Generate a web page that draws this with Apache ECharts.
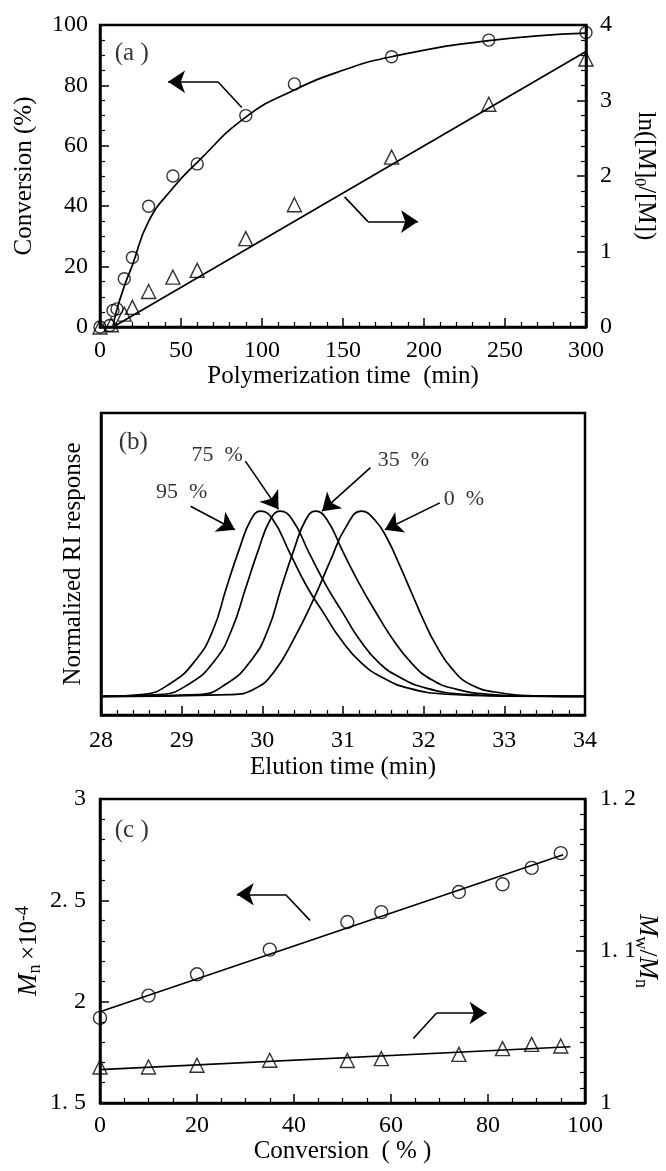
<!DOCTYPE html>
<html><head><meta charset="utf-8">
<script src="https://cdn.jsdelivr.net/npm/echarts@6/dist/echarts.min.js"></script>
<style>html,body{margin:0;padding:0;background:#fff}#c{width:666px;height:1171px}</style>
</head><body><div id="c"></div>
<script>
// ---------- Panel (a): conversion / ln([M]0/[M]) vs polymerization time ----------
const timeConvCircles = [[0,0],[6,0.5],[8,5.5],[10.5,6],[15,16],[20,23],[30,40],[45,50],[60,54],[90,70],[120,80.5],[180,89.5],[240,95],[300,97.5]];
const timeLnTriangles = [[0,0],[7,0.03],[15,0.17],[20,0.26],[30,0.47],[45,0.66],[60,0.75],[90,1.17],[120,1.62],[180,2.25],[240,2.95],[300,3.55]];
const convFitCurve = [[8,0],[10,5],[15,13.5],[20,20.5],[30,35],[45,46],[60,54.5],[90,69.5],[120,78.5],[150,85],[180,89.5],[240,94.8],[300,97.3]];
const lnFitLine = [[8,0],[300,3.65]];
const arrowA_left = [[87.5,72.7],[72.8,81.2],[42,81.2]];
const arrowA_right = [[151,43.1],[165.4,34.9],[196.3,34.9]];
const labelsA = [{name:'(a )', value:[19.6,90.6]}];

// ---------- Panel (b): GPC traces ----------
const trace95 = [[28,0],[28.5,0.01],[28.86,0.07],[29.18,0.2],[29.39,0.36],[29.55,0.58],[29.71,0.79],[29.86,0.955],[29.98,1],[30.13,0.955],[30.34,0.775],[30.55,0.595],[30.76,0.45],[30.97,0.31],[31.23,0.18],[31.5,0.1],[31.81,0.045],[32.29,0.012],[33,0.002],[34,0]];
const trace75 = [[28,0],[28.72,0.01],[29.1,0.07],[29.42,0.2],[29.62,0.36],[29.79,0.58],[29.95,0.79],[30.1,0.955],[30.22,1],[30.37,0.955],[30.58,0.775],[30.79,0.6],[31.0,0.45],[31.2,0.31],[31.45,0.18],[31.72,0.1],[32.03,0.045],[32.5,0.012],[33.2,0.002],[34,0]];
const trace35 = [[28,0],[29.2,0.01],[29.56,0.07],[29.87,0.2],[30.07,0.36],[30.23,0.58],[30.39,0.79],[30.54,0.955],[30.66,1],[30.8,0.955],[31.0,0.78],[31.2,0.61],[31.4,0.46],[31.6,0.32],[31.85,0.18],[32.1,0.09],[32.4,0.04],[32.8,0.012],[33.4,0.002],[34,0]];
const trace0 = [[28,0],[29.6,0.01],[29.9,0.04],[30.14,0.13],[30.39,0.31],[30.63,0.52],[30.85,0.74],[31.03,0.91],[31.23,1],[31.4,0.95],[31.55,0.85],[31.7,0.71],[31.85,0.56],[32.0,0.41],[32.15,0.28],[32.35,0.15],[32.6,0.06],[32.95,0.02],[33.4,0.003],[34,0]];
const arrowsB = [
  [[29.11,1.027],[29.66,0.90]],
  [[29.79,1.27],[30.20,1.01]],
  [[31.34,1.235],[30.74,1.0]],
  [[32.2,1.045],[31.52,0.90]]
];
const labelsB = [
  {name:'(b)', value:[28.40,1.371]},
  {name:'95  %', value:[29.0,1.104]},
  {name:'75  %', value:[29.44,1.30]},
  {name:'35  %', value:[31.75,1.275]},
  {name:'0  %', value:[32.5,1.063]}
];

// ---------- Panel (c): Mn and Mw/Mn vs conversion ----------
const convMnCircles = [[0,1.92],[10,2.03],[20,2.135],[35,2.257],[51,2.393],[58,2.442],[74,2.541],[83,2.579],[89,2.66],[95,2.733]];
const convPdiTriangles = [[0,1.0237],[10,1.0237],[20,1.0248],[35,1.0281],[51,1.028],[58,1.0292],[74,1.032],[83,1.0358],[89,1.0386],[95,1.0375]];
const mnFitLine = [[0,1.95],[95.5,2.725]];
const pdiFitLine = [[0,1.022],[97,1.037]];
const arrowC_left = [[43.3,2.401],[38.2,2.53],[28.2,2.53]];
const arrowC_right = [[64.6,1.818],[69.4,1.944],[79.7,1.944]];
const labelsC = [{name:'(c )', value:[6.54,2.845]}];

const FONT = 'Liberation Serif';
const BLACK = '#000';
const TICK_FS = 24, NAME_FS = 25;

function axisCommon(minorSplit, labelMargin) {
  return {
    nameMoveOverlap:false,
    nameTextStyle:{fontFamily:FONT, fontSize:NAME_FS, color:BLACK},
    axisLine:{show:true, onZero:false, lineStyle:{color:BLACK, width:2.5}},
    axisTick:{show:true, inside:true, length:9, lineStyle:{color:BLACK, width:1.5}},
    minorTick:{show:true, splitNumber:minorSplit, length:5, lineStyle:{color:BLACK, width:1.2}},
    splitLine:{show:false}, minorSplitLine:{show:false},
    axisLabel:{fontFamily:FONT, fontSize:TICK_FS, color:BLACK, margin:labelMargin}
  };
}
function xAxisBase(gi, min, max, interval, minorSplit, name, labelMargin, nameGap) {
  return Object.assign({type:'value', gridIndex:gi, min, max, interval, position:'bottom',
    name, nameLocation:'middle', nameGap}, axisCommon(minorSplit, labelMargin));
}
function yAxisBase(gi, pos, min, max, interval, minorSplit, name, labelMargin, nameGap, extra) {
  return Object.assign({type:'value', gridIndex:gi, position:pos, min, max, interval,
    name, nameLocation:'middle', nameGap}, axisCommon(minorSplit, labelMargin), extra || {});
}
const dotted = v => String(v).replace('.', '. ');

function lineSeries(xi, yi, data, smooth) {
  return {type:'line', xAxisIndex:xi, yAxisIndex:yi, data, showSymbol:false, symbol:'none',
    smooth: smooth || false, lineStyle:{color:BLACK, width:1.7}, z:2, silent:true};
}
function markerSeries(xi, yi, data, symbol, size) {
  return {type:'scatter', xAxisIndex:xi, yAxisIndex:yi, data, symbol, symbolSize:size,
    itemStyle:{color:'rgba(0,0,0,0)', borderColor:BLACK, borderWidth:1.4}, z:3, silent:true};
}
function arrowSeries(xi, yi, polylines) {
  const plain = [], heads = [];
  polylines.forEach(p => {
    for (let i = 0; i < p.length - 2; i++) plain.push({coords:[p[i], p[i+1]]});
    heads.push({coords:[p[p.length-2], p[p.length-1]]});
  });
  const out = [];
  if (plain.length) out.push({type:'lines', coordinateSystem:'cartesian2d', xAxisIndex:xi, yAxisIndex:yi,
    data:plain, symbol:['none','none'], lineStyle:{color:BLACK, width:1.6, opacity:1}, z:4, silent:true});
  out.push({type:'lines', coordinateSystem:'cartesian2d', xAxisIndex:xi, yAxisIndex:yi,
    data:heads, symbol:['none','arrow'], symbolSize:[11,17], lineStyle:{color:BLACK, width:1.6, opacity:1},
    itemStyle:{color:BLACK}, z:4, silent:true});
  return out;
}
function textSeries(xi, yi, data, size) {
  return {type:'scatter', xAxisIndex:xi, yAxisIndex:yi, data, symbolSize:1,
    itemStyle:{color:'rgba(0,0,0,0)'}, z:5, silent:true,
    label:{show:true, position:'inside', formatter:'{b}', fontFamily:FONT, fontSize:size, color:BLACK}};
}

const subRich = {
  i:{fontFamily:FONT, fontSize:27, fontStyle:'italic', color:BLACK, lineHeight:30},
  t:{fontFamily:FONT, fontSize:25, color:BLACK, lineHeight:30},
  s:{fontFamily:FONT, fontSize:18, color:BLACK, lineHeight:30, verticalAlign:'bottom'},
  p:{fontFamily:FONT, fontSize:18, color:BLACK, lineHeight:30, verticalAlign:'top'}
};

const gridBase = {show:true, borderColor:BLACK, borderWidth:2.5, containLabel:false, outerBoundsMode:'none'};
const option = {
  animation:false,
  backgroundColor:'#fff',
  grid:[
    Object.assign({left:100, top:25, width:486, height:302}, gridBase),
    Object.assign({left:101, top:413, width:484, height:302}, gridBase),
    Object.assign({left:100, top:799, width:485, height:304}, gridBase)
  ],
  xAxis:[
    xAxisBase(0, 0, 300, 50, 5, 'Polymerization time  (min)', 12, 37),
    xAxisBase(1, 28, 34, 1, 5, 'Elution time (min)', 14, 40),
    xAxisBase(2, 0, 100, 20, 4, 'Conversion  ( % )', 11, 36)
  ],
  yAxis:[
    yAxisBase(0, 'left', 0, 100, 20, 4, 'Conversion (%)', 12, 63),
    yAxisBase(0, 'right', 0, 4, 1, 5, 'ln([M]{sub|0}/[M])', 14, 45, {
      nameRotate:-90,
      nameTextStyle:{fontFamily:FONT, fontSize:NAME_FS, color:BLACK,
        rich:{sub:{fontFamily:FONT, fontSize:16, color:BLACK, verticalAlign:'bottom', lineHeight:30}}}
    }),
    yAxisBase(1, 'left', -0.1, 1.53, 0.1, 5, 'Normalized RI response', 12, 15, {
      axisLabel:{show:false}, axisTick:{show:false}, minorTick:{show:false}
    }),
    yAxisBase(2, 'left', 1.5, 3, 0.5, 5, '{i|M}{s|n }{t|×10}{p|-4}', 14, 56, {
      axisLabel:{fontFamily:FONT, fontSize:TICK_FS, color:BLACK, margin:14, formatter:dotted},
      nameTextStyle:{rich:subRich}
    }),
    yAxisBase(2, 'right', 1, 1.2, 0.1, 10, '{i|M}{s|w}{t|/}{i|M}{s|n}', 15, 47, {
      nameRotate:-90,
      axisLabel:{fontFamily:FONT, fontSize:TICK_FS, color:BLACK, margin:15, formatter:dotted},
      nameTextStyle:{rich:subRich}
    })
  ],
  series:[
    // (a)
    lineSeries(0, 0, convFitCurve, 0.5),
    lineSeries(0, 1, lnFitLine),
    markerSeries(0, 0, timeConvCircles, 'circle', 12),
    markerSeries(0, 1, timeLnTriangles, 'triangle', 14),
    ...arrowSeries(0, 0, [arrowA_left, arrowA_right]),
    textSeries(0, 0, labelsA, 25),
    // (b)
    lineSeries(1, 2, trace95, 0.5),
    lineSeries(1, 2, trace75, 0.5),
    lineSeries(1, 2, trace35, 0.5),
    lineSeries(1, 2, trace0, 0.5),
    ...arrowSeries(1, 2, arrowsB),
    textSeries(1, 2, labelsB.slice(0,1), 25),
    textSeries(1, 2, labelsB.slice(1), 22),
    // (c)
    lineSeries(2, 3, mnFitLine),
    lineSeries(2, 4, pdiFitLine),
    markerSeries(2, 3, convMnCircles, 'circle', 13),
    markerSeries(2, 4, convPdiTriangles, 'triangle', 14),
    ...arrowSeries(2, 3, [arrowC_left, arrowC_right]),
    textSeries(2, 3, labelsC, 25)
  ]
};
const chart = echarts.init(document.getElementById('c'), null, {renderer:'canvas'});
chart.setOption(option);
</script></body></html>
